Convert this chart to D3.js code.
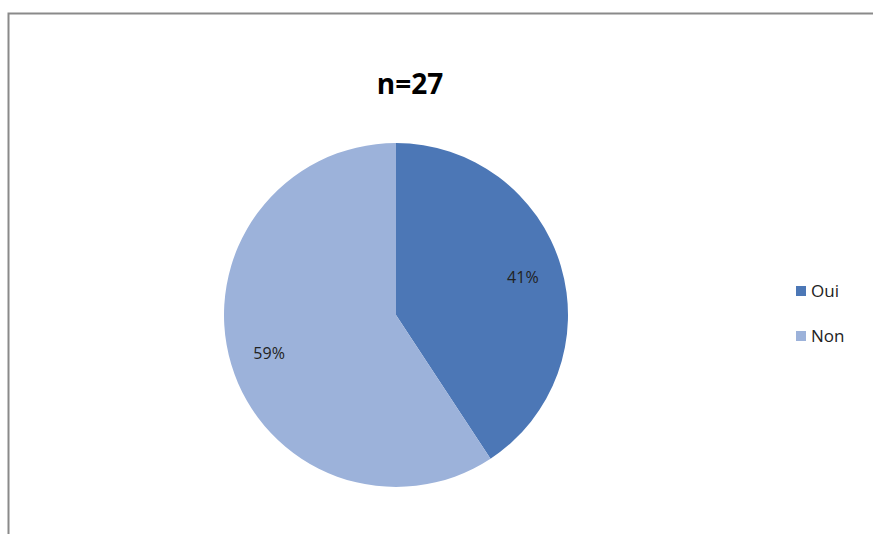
<!DOCTYPE html>
<html>
<head>
<meta charset="utf-8">
<script src="https://cdn.jsdelivr.net/npm/d3@7"></script>
<style>
  body { margin: 0; background: #fff; }
  svg { display: block; }
</style>
</head>
<body>
<div class="chart"></div>
<script>
var categories = ['Oui', 'Non'];
var counts = [11, 16];
var percentLabels = ['41%', '59%'];
var title = 'n=27';

var width = 873;
var height = 534;
var cx = 396, cy = 315, radius = 172;

var color = d3.scaleOrdinal()
  .domain(categories)
  .range(['#4c77b6', '#9cb2da']);

var svg = d3.select('.chart')
  .append('svg')
    .attr('width', width)
    .attr('height', height);

// frame (cropped on right and bottom)
svg.append('path')
  .attr('d', 'M8.5,' + height + ' V13.5 H' + width)
  .attr('fill', 'none')
  .attr('stroke', '#8a8a8a')
  .attr('stroke-width', 2);

svg.append('text')
  .attr('x', 410)
  .attr('y', 94)
  .attr('text-anchor', 'middle')
  .style('font-family', 'Open Sans, sans-serif')
  .style('font-weight', 'bold')
  .style('font-size', '28px')
  .text(title);

var data = categories.map((c, i) => ({ name: c, value: counts[i], label: percentLabels[i] }));

var pie = d3.pie().sort(null).value(d => d.value);
var arc = d3.arc().innerRadius(0).outerRadius(radius);
var labelArc = d3.arc().innerRadius(radius * 0.77).outerRadius(radius * 0.77);

var g = svg.append('g')
  .attr('transform', 'translate(' + cx + ',' + cy + ')');

var slices = g.selectAll('g.slice')
  .data(pie(data))
  .enter()
  .append('g')
    .attr('class', 'slice');

slices.append('path')
  .attr('d', arc)
  .attr('fill', d => color(d.data.name));

slices.append('text')
  .attr('transform', d => 'translate(' + labelArc.centroid(d) + ')')
  .attr('text-anchor', 'middle')
  .attr('dy', '0.35em')
  .style('font-family', 'Open Sans, sans-serif')
  .style('font-size', '16px')
  .style('fill', '#222')
  .text(d => d.data.label);

var legend = svg.append('g')
  .attr('transform', 'translate(796, 291)');

var item = legend.selectAll('g')
  .data(categories)
  .enter()
  .append('g')
    .attr('transform', (d, i) => 'translate(0,' + i * 45 + ')');

item.append('rect')
  .attr('x', 0)
  .attr('y', -5)
  .attr('width', 10)
  .attr('height', 10)
  .attr('fill', d => color(d));

item.append('text')
  .attr('x', 15)
  .attr('dy', '0.35em')
  .style('font-family', 'Open Sans, sans-serif')
  .style('font-size', '17px')
  .style('fill', '#222')
  .text(d => d);
</script>
</body>
</html>
